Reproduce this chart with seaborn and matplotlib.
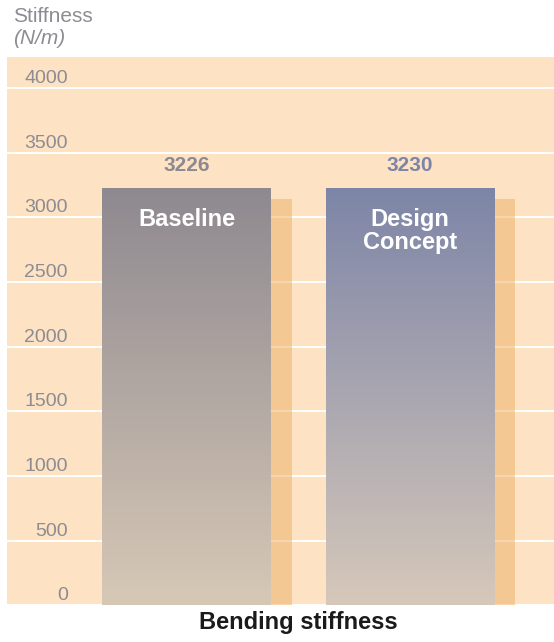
import numpy as np
import pandas as pd
import matplotlib
matplotlib.use("Agg")
import matplotlib.pyplot as plt
import matplotlib.patheffects as pe
from matplotlib.colors import LinearSegmentedColormap
from matplotlib.transforms import ScaledTranslation, blended_transform_factory
import seaborn as sns

# Data
concepts = ["Baseline", "Design Concept"]
bar_text = ["Baseline", "Design\nConcept"]
stiffness = [3226, 3230]
y_ticks = [0, 500, 1000, 1500, 2000, 2500, 3000, 3500, 4000]

# Colours
top_colors = ["#8E8990", "#7D85A7"]
bottom_colors = ["#D7C8B6", "#D6C8BA"]
value_colors = ["#8D8991", "#7D85A6"]
PEACH = "#FDE2C3"
SHADOW = "#EDB062"
GREY = "#8C8C92"

sns.set_theme(style="white")
plt.rcParams["font.family"] = ["Liberation Sans", "DejaVu Sans"]

fig = plt.figure(figsize=(5.54, 6.42), dpi=100)
ax = fig.add_axes([7 / 554, 0.0572, 1 - 7 / 554, 0.9108 - 0.0572])
ax.set_facecolor(PEACH)

df = pd.DataFrame({"concept": concepts, "stiffness": stiffness})
sns.barplot(data=df, x="concept", y="stiffness", hue="concept",
            palette=top_colors, width=0.754, legend=False, ax=ax,
            linewidth=0, saturation=1, errorbar=None)

bars = sorted(ax.patches, key=lambda p: p.get_x())

# Vertical gradient fill and an offset drop shadow on each bar
grad = np.linspace(0, 1, 256).reshape(-1, 1)
for patch, top, bot in zip(bars, top_colors, bottom_colors):
    patch.set_path_effects([
        pe.SimplePatchShadow(offset=(15.1, -7.9), shadow_rgbFace=SHADOW, alpha=0.5),
        pe.Normal(),
    ])
    x0, y0 = patch.get_x(), patch.get_y()
    w, h = patch.get_width(), patch.get_height()
    cmap = LinearSegmentedColormap.from_list("bar_grad", [bot, top])
    im = ax.imshow(grad, cmap=cmap, origin="lower", aspect="auto",
                   extent=(x0, x0 + w, y0, y0 + h), interpolation="bicubic",
                   zorder=patch.get_zorder() + 0.1)
    im.set_clip_path(patch)

ax.set_xlim(-0.803, 1.644)
ax.set_ylim(0, 4239)

for s in ax.spines.values():
    s.set_visible(False)

ax.set_yticks(y_ticks)
ax.set_yticklabels([str(t) for t in y_ticks])
ax.tick_params(axis="y", length=0, pad=-43.9, labelsize=14, labelcolor=GREY)
ax.tick_params(axis="x", length=0, labelbottom=False)
ax.set_xlabel("")
ax.set_ylabel("")
ax.yaxis.grid(True, color="white", linewidth=1.4)
ax.xaxis.grid(False)
ax.set_axisbelow(True)

# Tick labels sit just above their gridlines
lift = ScaledTranslation(0, 0.115, fig.dpi_scale_trans)
for lbl in ax.get_yticklabels():
    lbl.set_transform(lbl.get_transform() + lift)

# Value labels above bars and names inside bars
for patch, txt, val, vc in zip(bars, bar_text, stiffness, value_colors):
    cx = patch.get_x() + patch.get_width() / 2
    top = patch.get_height()
    ax.annotate(f"{val}", (cx, top), xytext=(0, 12.2), textcoords="offset points",
                ha="center", va="baseline", fontsize=15, fontweight="bold",
                color=vc, zorder=5)
    ax.annotate(txt, (cx, top), xytext=(0, -14.5), textcoords="offset points",
                ha="center", va="top", fontsize=17, fontweight="bold",
                color="white", linespacing=1.0, zorder=5)

# Axis title and unit
fig.text(13 / 554, 0.9657, "Stiffness", fontsize=15, color=GREY, va="baseline")
fig.text(13 / 554, 0.9315, "(N/m)", fontsize=15, color=GREY, va="baseline",
         style="italic")

# Chart caption centred between the two bars
cap_tr = blended_transform_factory(ax.transData, fig.transFigure)
ax.text(0.5, 0.0202, "Bending stiffness", transform=cap_tr, ha="center",
        va="baseline", fontsize=17, fontweight="bold", color="#1A1A1A")

fig.savefig("out.png", dpi=100)
